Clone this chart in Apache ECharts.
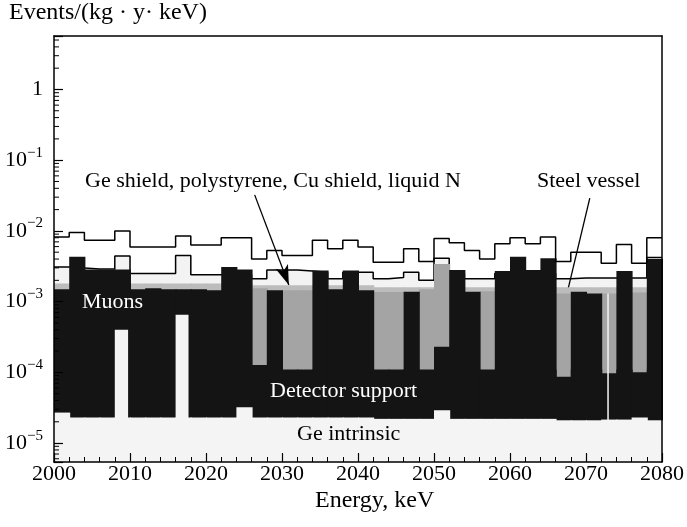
<!DOCTYPE html>
<html>
<head>
<meta charset="utf-8">
<script src="https://cdn.jsdelivr.net/npm/echarts@6/dist/echarts.min.js"></script>
<style>
  html, body { margin: 0; padding: 0; background: #fff; }
  #chart { width: 687px; height: 527px; }
</style>
</head>
<body>
<div id="chart"></div>
<script>
  // 2 keV bins, 2000 - 2080 keV
  const binWidth = 2;
  const binStart = Array.from({ length: 40 }, (_, i) => 2000 + binWidth * i);

  // step outlines (events / (kg y keV))
  const upperLine = [8.2e-3, 9.5e-3, 7.4e-3, 7.4e-3, 1.0e-2, 5.9e-3, 5.9e-3, 5.9e-3, 8.5e-3, 6.3e-3,
    6.3e-3, 8.0e-3, 8.0e-3, 4.0e-3, 5.3e-3, 4.5e-3, 4.5e-3, 7.4e-3, 5.6e-3, 7.4e-3,
    5.9e-3, 3.6e-3, 3.6e-3, 5.6e-3, 3.7e-3, 7.8e-3, 6.8e-3, 5.3e-3, 4.0e-3, 6.6e-3,
    8.0e-3, 6.6e-3, 8.2e-3, 3.7e-3, 5.0e-3, 5.0e-3, 3.5e-3, 6.4e-3, 3.5e-3, 8.0e-3];
  const lowerLine = [3.1e-3, 3.0e-3, 2.9e-3, 2.9e-3, 4.4e-3, 2.5e-3, 2.5e-3, 2.5e-3, 4.5e-3, 2.4e-3,
    2.4e-3, 2.4e-3, 2.4e-3, 2.1e-3, 2.8e-3, 2.8e-3, 2.7e-3, 2.6e-3, 2.1e-3, 2.6e-3,
    2.6e-3, 2.1e-3, 2.2e-3, 2.6e-3, 2.0e-3, 4.1e-3, 2.5e-3, 2.1e-3, 2.1e-3, 2.5e-3,
    2.5e-3, 2.5e-3, 2.5e-3, 2.1e-3, 2.15e-3, 2.15e-3, 2.15e-3, 2.15e-3, 2.15e-3, 4.2e-3];

  // filled components
  const geShield = [1.8e-3, 1.8e-3, 1.8e-3, 1.8e-3, 1.8e-3, 1.8e-3, 1.8e-3, 1.8e-3, 1.8e-3, 1.8e-3,
    1.8e-3, 1.8e-3, 1.8e-3, 1.7e-3, 1.7e-3, 1.7e-3, 1.7e-3, 1.7e-3, 1.7e-3, 1.7e-3,
    1.7e-3, 1.6e-3, 1.6e-3, 1.6e-3, 1.6e-3, 1.6e-3, 1.6e-3, 1.6e-3, 1.6e-3, 1.6e-3,
    1.6e-3, 1.6e-3, 1.6e-3, 1.6e-3, 1.6e-3, 1.6e-3, 1.6e-3, 1.6e-3, 1.6e-3, 1.6e-3];
  const steelVessel = [1.0e-3, 1.0e-3, 1.0e-3, 1.0e-3, 1.0e-3, 1.0e-3, 1.0e-3, 1.0e-3, 1.0e-3, 1.0e-3,
    1.0e-3, 1.0e-3, 1.0e-3, 1.55e-3, 1.0e-3, 1.45e-3, 1.45e-3, 1.0e-3, 1.0e-3, 1.0e-3,
    1.0e-3, 1.37e-3, 1.37e-3, 1.0e-3, 1.5e-3, 3.4e-3, 1.0e-3, 1.0e-3, 1.4e-3, 1.0e-3,
    1.0e-3, 1.0e-3, 1.0e-3, 1.3e-3, 1.0e-3, 1.0e-3, 1.3e-3, 1.0e-3, 1.35e-3, 1.0e-3];
  const muons = [1.5e-3, 4.3e-3, 2.85e-3, 2.85e-3, 2.85e-3, 1.5e-3, 1.55e-3, 1.5e-3, 1.5e-3, 1.5e-3,
    1.45e-3, 3.1e-3, 2.85e-3, 8e-5, 1.45e-3, 8e-5, 8e-5, 2.75e-3, 1.5e-3, 2.75e-3,
    1.45e-3, 8e-5, 8e-5, 1.38e-3, 8e-5, 2.3e-4, 2.8e-3, 1.38e-3, 8e-5, 2.7e-3,
    4.3e-3, 2.8e-3, 4.1e-3, 8e-5, 1.38e-3, 1.3e-3, 8e-5, 2.7e-3, 8e-5, 4.0e-3];
  const detSupport = [1.1e-4, 1.1e-4, 1.1e-4, 1.1e-4, 1.1e-4, 1.1e-4, 1.1e-4, 1.1e-4, 1.1e-4, 1.1e-4,
    1.1e-4, 1.1e-4, 1.1e-4, 1.27e-4, 1.1e-4, 1.1e-4, 1.1e-4, 1.1e-4, 1.1e-4, 1.1e-4,
    1.1e-4, 1.1e-4, 1.1e-4, 1.1e-4, 1.1e-4, 1.1e-4, 1.1e-4, 1.1e-4, 1.1e-4, 1.1e-4,
    1.1e-4, 1.1e-4, 1.1e-4, 8.7e-5, 1.1e-4, 1.1e-4, 9.7e-5, 1.1e-4, 1.0e-4, 1.1e-4];
  const geIntrinsic = [2.7e-5, 2.3e-5, 2.3e-5, 2.3e-5, 2.3e-5, 2.3e-5, 2.3e-5, 2.3e-5, 2.3e-5, 2.3e-5,
    2.3e-5, 2.3e-5, 3.2e-5, 2.3e-5, 2.3e-5, 2.3e-5, 2.3e-5, 2.3e-5, 2.3e-5, 2.3e-5,
    2.3e-5, 2.2e-5, 2.2e-5, 2.2e-5, 2.2e-5, 2.9e-5, 2.2e-5, 2.2e-5, 2.2e-5, 2.2e-5,
    2.2e-5, 2.2e-5, 2.2e-5, 2.1e-5, 2.1e-5, 2.1e-5, 2.15e-5, 2.15e-5, 2.3e-5, 2.1e-5];

  // empty (white) columns
  const gapStart = [2008.0, 2016.0, 2072.8];
  const gapEnd = [2009.75, 2017.7, 2073.0];
  const gapTop = [4.0e-4, 6.5e-4, 1.3e-3];

  // axes
  const xMin = 2000, xMax = 2080;
  const yMin = 5.4e-6, yMax = 5.7;
  const yMinorMantissa = [2, 3, 4, 5, 6, 7, 8, 9];
  const yDecades = [1e-6, 1e-5, 1e-4, 1e-3, 1e-2, 1e-1, 1];
  const yMinorTicks = [];
  yDecades.forEach(d => yMinorMantissa.forEach(m => {
    const v = m * d;
    if (v > yMin && v < yMax) yMinorTicks.push(v);
  }));

  const serif = "'Liberation Serif', 'DejaVu Serif', serif";
  const BLACK = "#141414";

  const chart = echarts.init(document.getElementById("chart"), null, { renderer: "canvas" });

  // histogram bar from the axis bottom up to the value
  const histSeries = (name, values, color, z) => ({
    name,
    type: "custom",
    z,
    silent: true,
    renderItem: (params, api) => {
      const start = api.value(0);
      const top = api.coord([start, api.value(1)]);
      const base = api.coord([start + binWidth, yMin]);
      // +1px overlap hides seams between neighbouring bins
      return {
        type: "rect",
        shape: { x: top[0], y: top[1], width: base[0] - top[0] + 1, height: base[1] - top[1] },
        style: { fill: color },
      };
    },
    data: binStart.map((x, i) => [x, values[i]]),
  });

  const stepSeries = (name, values, z, markLine) => ({
    name,
    type: "line",
    step: "end",
    z,
    silent: true,
    symbol: "none",
    lineStyle: { color: "#000", width: 1.5 },
    data: binStart.map((x, i) => [x, values[i]]).concat([[xMax, values[values.length - 1]]]),
    markLine,
  });

  const text = (str, x, y, color, size) => ({
    type: "text",
    x,
    y: y - size / 2,
    z: 100,
    style: { text: str, fill: color, font: size + "px " + serif },
  });

  const option = {
    animation: false,
    backgroundColor: "#fff",
    grid: { left: 54, right: 25, top: 36, bottom: 65 },
    xAxis: [
      {
        type: "value",
        min: xMin,
        max: xMax,
        interval: 10,
        z: 20,
        axisLine: { lineStyle: { color: "#000", width: 1.5 } },
        axisTick: { inside: true, length: 9, lineStyle: { color: "#000", width: 1.2 } },
        minorTick: { show: true, splitNumber: 5, length: 5, lineStyle: { color: "#000", width: 1 } },
        axisLabel: { color: "#000", fontSize: 22, fontFamily: serif, margin: 1, formatter: v => String(v) },
        splitLine: { show: false },
      },
      {
        type: "value",
        position: "top",
        min: xMin,
        max: xMax,
        z: 20,
        axisLine: { onZero: false, lineStyle: { color: "#000", width: 1.5 } },
        axisTick: { show: false },
        axisLabel: { show: false },
        splitLine: { show: false },
      },
    ],
    yAxis: [
      {
        type: "log",
        logBase: 10,
        min: yMin,
        max: yMax,
        z: 20,
        axisLine: { lineStyle: { color: "#000", width: 1.5 } },
        axisTick: { inside: true, length: 9, lineStyle: { color: "#000", width: 1.2 } },
        axisLabel: {
          color: "#000",
          fontSize: 22,
          fontFamily: serif,
          lineHeight: 30,
          margin: 11,
          formatter: v => {
            const e = Math.log10(v);
            const r = Math.round(e);
            if (Math.abs(e - r) > 1e-3) return "";
            if (r === 0) return "1";
            return "10{sup|\u2212" + (-r) + "}";
          },
          rich: {
            sup: { fontSize: 15, lineHeight: 15, verticalAlign: "top", fontFamily: serif, color: "#000" },
          },
        },
        splitLine: { show: false },
      },
      {
        type: "log",
        position: "right",
        min: yMin,
        max: yMax,
        z: 20,
        axisLine: { onZero: false, lineStyle: { color: "#000", width: 1.5 } },
        axisTick: { show: false },
        axisLabel: { show: false },
        splitLine: { show: false },
      },
    ],
    series: [
      histSeries("lowerFill", lowerLine, "#f3f3f3", 3),
      stepSeries("lowerLine", lowerLine, 4),
      histSeries("Ge shield, polystyrene, Cu shield, liquid N", geShield, "#bcbcbc", 5),
      histSeries("Steel vessel", steelVessel, "#a4a4a4", 6),
      histSeries("Muons", muons, BLACK, 7),
      histSeries("Detector support", detSupport, BLACK, 8),
      {
        name: "gaps",
        type: "custom",
        z: 9,
        silent: true,
        renderItem: (params, api) => {
          const a = api.coord([api.value(0), api.value(2)]);
          const b = api.coord([api.value(1), yMin]);
          return { type: "rect", shape: { x: a[0], y: a[1], width: b[0] - a[0], height: b[1] - a[1] }, style: { fill: "#f4f4f4" } };
        },
        data: gapStart.map((x, i) => [x, gapEnd[i], gapTop[i]]),
      },
      histSeries("Ge intrinsic", geIntrinsic, "#f4f4f4", 10),
      stepSeries("upperLine", upperLine, 11, {
        silent: true,
        symbol: ["none", "arrow"],
        symbolSize: [10, 20],
        label: { show: false },
        lineStyle: { color: "#000", width: 1.3, type: "solid" },
        data: [
          [{ coord: [2026.4, 0.0323] }, { coord: [2030.9, 1.72e-3] }],
          [{ coord: [2070.5, 0.029] }, { coord: [2066.3, 3.77e-4] }],
        ],
      }),
      {
        // log minor ticks on the left axis
        name: "yMinor",
        type: "custom",
        z: 12,
        silent: true,
        renderItem: (params, api) => {
          const p = api.coord([xMin, api.value(1)]);
          return { type: "line", shape: { x1: p[0], y1: p[1], x2: p[0] + 5, y2: p[1] }, style: { stroke: "#000", lineWidth: 1 } };
        },
        data: yMinorTicks.map(v => [xMin, v]),
      },
    ],
    graphic: [
      text("Events/(kg \u00b7 y\u00b7 keV)", 9, 13, "#000", 24),
      text("Energy, keV", 315, 501, "#000", 24),
      text("Ge shield, polystyrene, Cu shield, liquid N", 85, 181, "#000", 22),
      text("Steel vessel", 537, 181, "#000", 22),
      text("Muons", 82, 302, "#fff", 22),
      text("Detector support", 270, 391, "#fff", 22),
      text("Ge intrinsic", 297, 434, "#000", 22),
    ],
  };

  chart.setOption(option);
</script>
</body>
</html>
